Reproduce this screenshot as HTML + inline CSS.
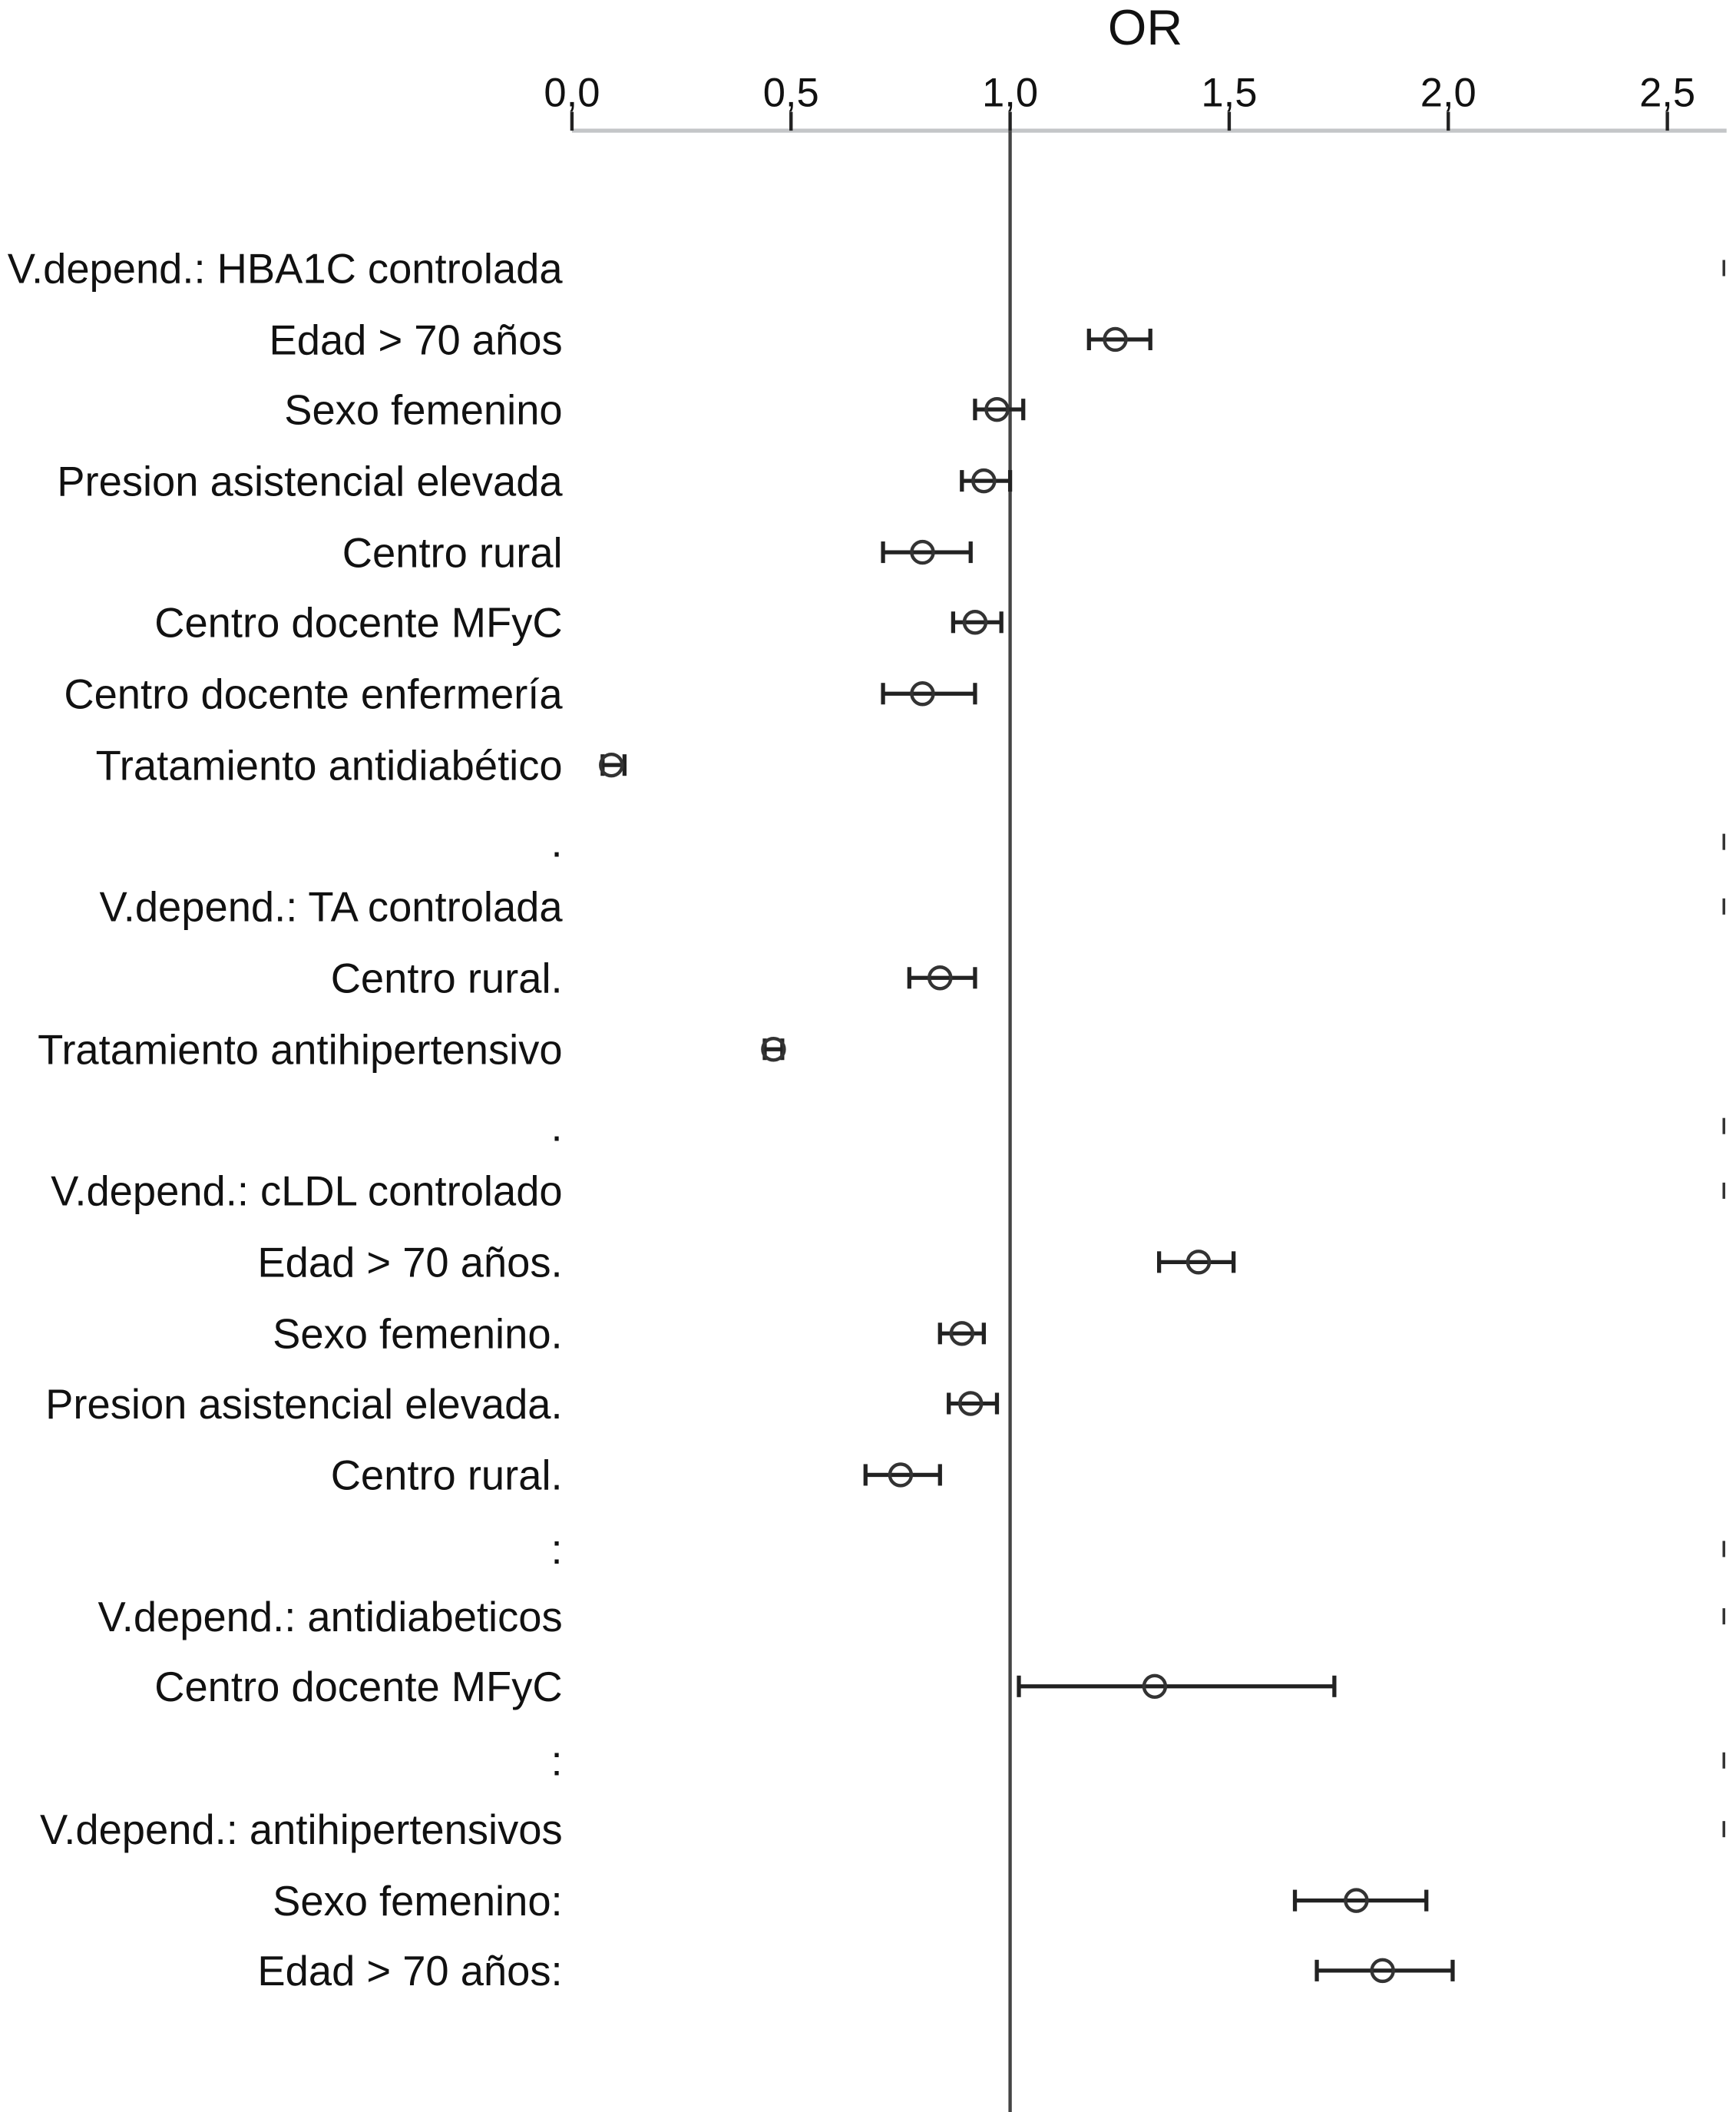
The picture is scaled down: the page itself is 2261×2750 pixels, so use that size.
<!DOCTYPE html>
<html><head><meta charset="utf-8"><style>
html,body{margin:0;padding:0;background:#fff;}
svg{display:block;}
text{font-family:"Liberation Sans",sans-serif;fill:#111;}
</style></head><body>
<svg id="chart" width="2261" height="2750" viewBox="0 0 1290 1568" preserveAspectRatio="none" xmlns="http://www.w3.org/2000/svg"></svg>
<script>
const labels=["V.depend.: HBA1C controlada","Edad > 70 años","Sexo femenino","Presion asistencial elevada","Centro rural","Centro docente MFyC","Centro docente enfermería","Tratamiento antidiabético",".","V.depend.: TA controlada","Centro rural.","Tratamiento antihipertensivo",".","V.depend.: cLDL controlado","Edad > 70 años.","Sexo femenino.","Presion asistencial elevada.","Centro rural.",":","V.depend.: antidiabeticos","Centro docente MFyC",":","V.depend.: antihipertensivos","Sexo femenino:","Edad > 70 años:"];
const rowY=[199,252,304,357,410,462,515,568,625,673,726,779,836,884,937,990,1042,1095,1150,1200,1252,1307,1358,1411,1463];
const orVals=[null,1.24,0.97,0.94,0.80,0.92,0.80,0.09,null,null,0.84,0.46,null,null,1.43,0.89,0.91,0.75,null,null,1.33,null,null,1.79,1.85];
const loVals=[null,1.18,0.92,0.89,0.71,0.87,0.71,0.07,null,null,0.77,0.44,null,null,1.34,0.84,0.86,0.67,null,null,1.02,null,null,1.65,1.70];
const hiVals=[null,1.32,1.03,1.00,0.91,0.98,0.92,0.12,null,null,0.92,0.48,null,null,1.51,0.94,0.97,0.84,null,null,1.74,null,null,1.95,2.01];
const ticks=[0,0.5,1.0,1.5,2.0,2.5];
const tickLabels=["0,0","0,5","1,0","1,5","2,0","2,5"];
const NS="http://www.w3.org/2000/svg";
const svg=document.getElementById('chart');
const x=v=>425+v*325.6;
function mk(tag,attrs,parent){const e=document.createElementNS(NS,tag);for(const k in attrs)e.setAttribute(k,attrs[k]);(parent||svg).appendChild(e);return e;}
let t=mk('text',{x:851,y:33,'font-size':37,'text-anchor':'middle'});t.textContent="OR";


let ax=mk('line',{x1:x(0),x2:1283,y1:97,y2:97,stroke:'#c4c6c8','stroke-width':3});


ticks.forEach((v,i)=>{
 const l=mk('line',{x1:x(v),x2:x(v),y1:83,y2:97,stroke:'#222','stroke-width':2.5});
 
 
 const tl=mk('text',{x:x(v),y:79,'font-size':30,'text-anchor':'middle'});tl.textContent=tickLabels[i];
 
 
});
const ref=mk('line',{x1:x(1),x2:x(1),y1:97,y2:1568,stroke:'#444','stroke-width':2.5});


labels.forEach((lab,i)=>{
 const y=rowY[i];
 const tx=mk('text',{x:418,y:y+11,'font-size':31,'text-anchor':'end'});tx.textContent=lab;
 
 
 if(orVals[i]===null){
  const m=mk('line',{x1:1281,x2:1281,y1:y-6,y2:y+6,stroke:'#333','stroke-width':2});
  
  
  return;
 }
 const g=mk('g',{});
 
 
 mk('line',{x1:x(loVals[i]),x2:x(hiVals[i]),y1:y,y2:y,stroke:'#222','stroke-width':3},g);
 mk('line',{x1:x(loVals[i]),x2:x(loVals[i]),y1:y-8,y2:y+8,stroke:'#222','stroke-width':3},g);
 mk('line',{x1:x(hiVals[i]),x2:x(hiVals[i]),y1:y-8,y2:y+8,stroke:'#222','stroke-width':3},g);
 mk('circle',{cx:x(orVals[i]),cy:y,r:8,fill:'none',stroke:'#333','stroke-width':2.5},g);
});
</script>
</body></html>
